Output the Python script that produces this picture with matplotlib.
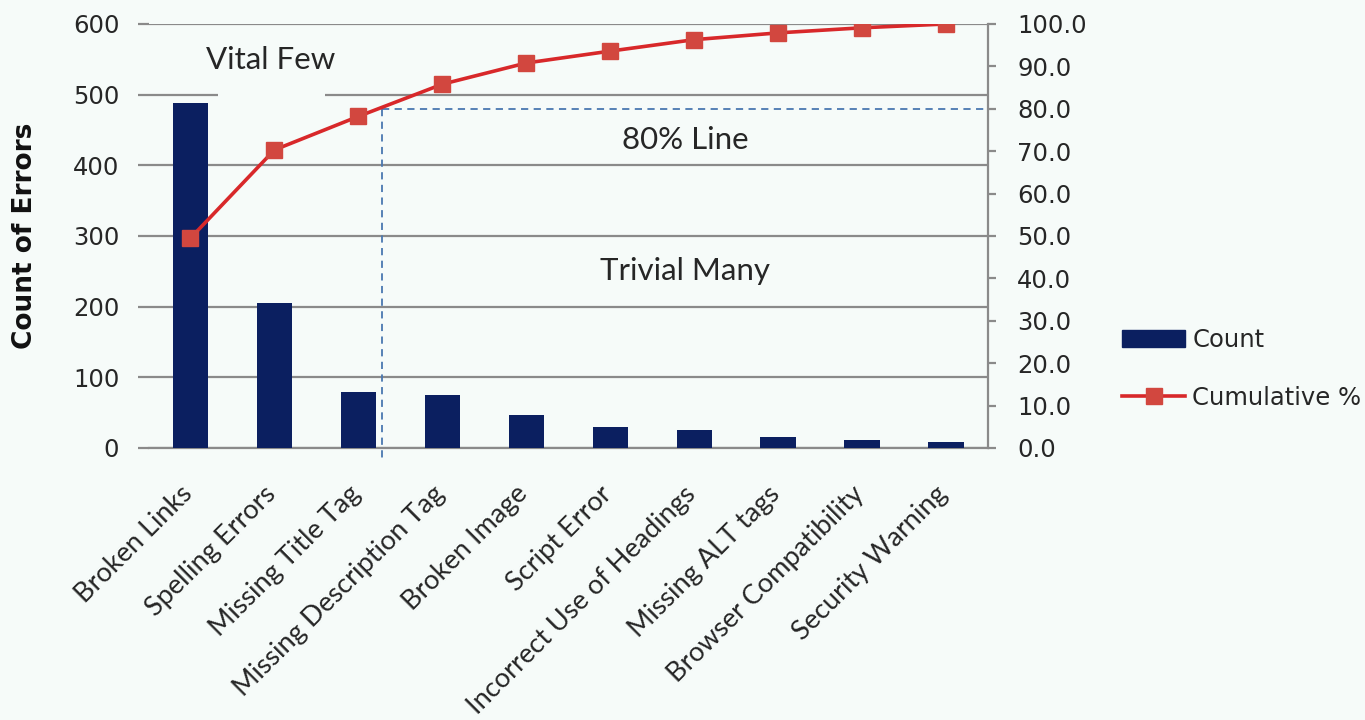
import matplotlib.pyplot as plt
from matplotlib.patches import Rectangle, Patch
from matplotlib.lines import Line2D
from matplotlib.transforms import ScaledTranslation

filename_plot = 'out.png'

categories = ['Broken Links', 'Spelling Errors', 'Missing Title Tag', 'Missing Description Tag',
              'Broken Image', 'Script Error', 'Incorrect Use of Headings', 'Missing ALT tags',
              'Browser Compatibility', 'Security Warning']
counts = [488, 205, 79, 75, 46, 29, 25, 15, 12, 8]
cumulative = [49.5, 70.3, 78.2, 85.8, 90.8, 93.6, 96.3, 97.9, 99.1, 100.0]
count_ticks = [0, 100, 200, 300, 400, 500, 600]
pct_ticks = [0, 10, 20, 30, 40, 50, 60, 70, 80, 90, 100]

bg = '#f6fbf9'
bar_color = '#0b1f60'
line_color = '#d8282a'
marker_color = '#d2473f'
grid_color = '#8a8a8a'
text_color = '#262626'


def draw_plot():
    fig = plt.figure(figsize=(13.65, 7.2), dpi=100, facecolor=bg)
    ax = fig.add_axes([0.1088, 0.3778, 0.615, 0.5889], facecolor=bg)
    x = list(range(len(categories)))

    ax.bar(x, counts, width=0.42, color=bar_color, zorder=3)
    ax.set_xlim(-0.5, len(categories) - 0.5)
    ax.set_ylim(0, 600)
    ax.set_yticks(count_ticks)
    ax.yaxis.grid(True, color=grid_color, linewidth=1.6, zorder=0)
    ax.set_axisbelow(True)
    for side in ['left', 'right', 'top']:
        ax.spines[side].set_visible(False)
    ax.spines['bottom'].set_color(grid_color)
    ax.spines['bottom'].set_linewidth(1.6)
    ax.tick_params(axis='y', length=8, color=grid_color, width=1.6, labelsize=17.5,
                   labelcolor=text_color, pad=13)
    ax.tick_params(axis='x', length=0, pad=24)
    ax.set_xticks(x)
    ax.set_xticklabels(categories, rotation=45, ha='right', rotation_mode='anchor',
                       fontsize=19.5, family='Lato', color=text_color)
    # nudge the slanted category names a little to the left
    shift = ScaledTranslation(-8 / 72, 0, fig.dpi_scale_trans)
    for lbl in ax.get_xticklabels():
        lbl.set_transform(lbl.get_transform() + shift)
    fig.text(25 / 1365, 0.672, 'Count of Errors', rotation=90, ha='center', va='center',
             fontsize=19, fontweight='bold', color='#111111')

    # background-coloured box behind the "Vital Few" label cuts the 500 gridline
    ax.add_patch(Rectangle((0.33, 480), 1.27, 40, facecolor=bg, edgecolor='none', zorder=1))

    ax2 = ax.twinx()
    ax2.set_ylim(0, 100)
    ax2.set_yticks(pct_ticks)
    ax2.set_yticklabels(['%.1f' % t for t in pct_ticks])
    for side in ['left', 'top', 'bottom']:
        ax2.spines[side].set_visible(False)
    ax2.spines['right'].set_color(grid_color)
    ax2.spines['right'].set_linewidth(1.6)
    ax2.tick_params(axis='y', length=6, color=grid_color, width=1.6, labelsize=17.5,
                    labelcolor=text_color, pad=15)
    ax2.plot(x, cumulative, color=line_color, linewidth=2.6, marker='s', markersize=11.5,
             markerfacecolor=marker_color, markeredgecolor=marker_color, zorder=5)

    # 80% cut-off guide
    ax2.plot([2.28, 9.5], [80, 80], linestyle=(0, (4, 3)), color='#4a78b0', linewidth=1.3, zorder=4)
    ax2.plot([2.28, 2.28], [80, -3.2], linestyle=(0, (4, 3)), color='#4a78b0', linewidth=1.3,
             zorder=4, clip_on=False)

    ax.text(0.96, 549, 'Vital Few', fontsize=22.5, family='Lato', ha='center', va='center',
            color=text_color, zorder=6)
    ax.text(5.89, 436, '80% Line', fontsize=22.5, family='Lato', ha='center', va='center',
            color=text_color, zorder=6)
    ax.text(5.89, 250, 'Trivial Many', fontsize=22.5, family='Lato', ha='center', va='center',
            color=text_color, zorder=6)

    handles = [Patch(facecolor=bar_color, edgecolor=bar_color),
               Line2D([0], [0], color=line_color, linewidth=2.6, marker='s', markersize=11,
                      markerfacecolor=marker_color, markeredgecolor=marker_color)]
    fig.legend(handles, ['Count', 'Cumulative %'], loc='center left',
               bbox_to_anchor=(1122 / 1365, 0.4875), frameon=False, fontsize=17.5,
               borderpad=0, borderaxespad=0, handlelength=2.6, handletextpad=0.3,
               labelspacing=1.37, labelcolor=text_color)

    fig.savefig(filename_plot, dpi=100, facecolor=bg)
    plt.close(fig)


if __name__ == '__main__':
    draw_plot()
